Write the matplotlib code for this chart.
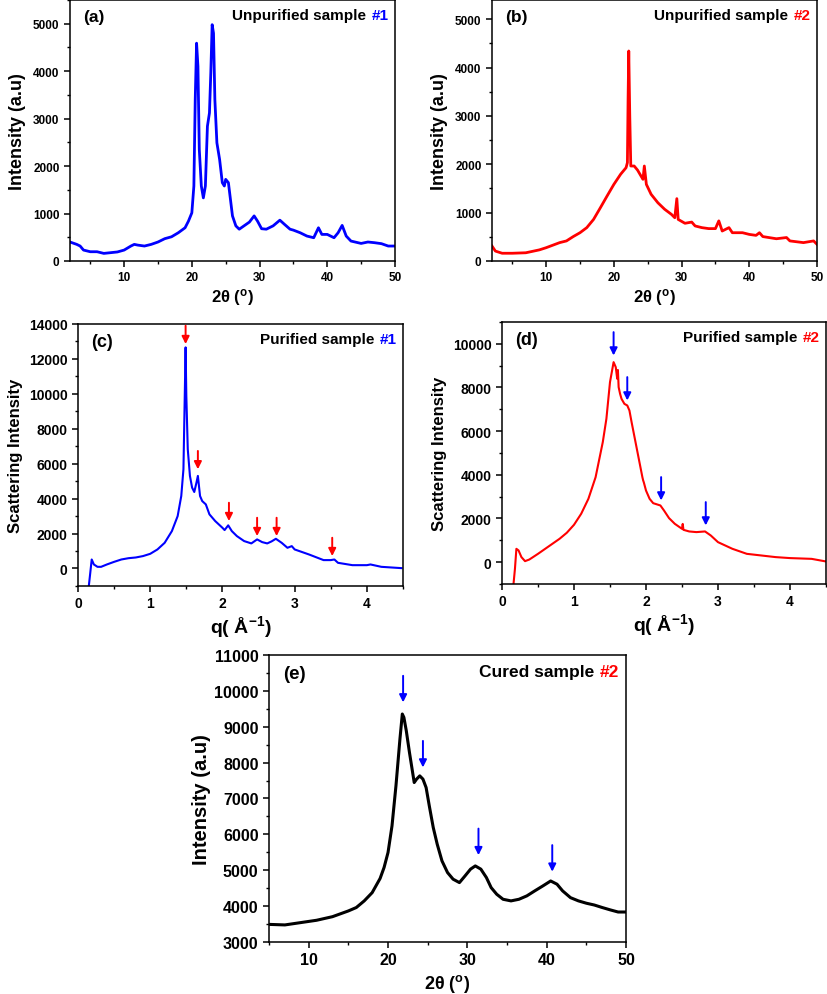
import matplotlib
matplotlib.use('Agg')
import matplotlib.pyplot as plt
from matplotlib.ticker import MultipleLocator
from matplotlib.offsetbox import AnchoredOffsetbox, TextArea, HPacker

plt.rcParams['font.family'] = ['Liberation Sans', 'DejaVu Sans']
plt.rcParams['font.weight'] = 'bold'
plt.rcParams['axes.labelweight'] = 'bold'
plt.rcParams['mathtext.fontset'] = 'custom'
plt.rcParams['mathtext.rm'] = 'Liberation Sans:bold'
plt.rcParams['mathtext.bf'] = 'Liberation Sans:bold'
plt.rcParams['mathtext.it'] = 'Liberation Sans:bold'

# (a) unpurified sample #1, XRD
a_x = [2, 3, 3.5, 4, 5, 6, 7, 8, 9, 10, 11, 11.5, 12, 13, 14, 15, 16, 17, 18, 19, 19.5, 20,
       20.3, 20.5, 20.7, 20.9, 21.1, 21.4, 21.7, 22, 22.3, 22.6, 22.8, 23.0, 23.2, 23.4, 23.7,
       24.1, 24.5, 24.8, 25.0, 25.4, 25.7, 26, 26.5, 27, 28, 28.5, 29.2, 29.7, 30.3, 31, 32, 33,
       33.7, 34.5, 35, 36, 37, 38, 38.7, 39.2, 40, 41, 41.6, 42.2, 42.8, 43.5, 45, 46, 47, 48, 49, 50]
a_y = [400, 350, 315, 230, 195, 195, 160, 175, 190, 230, 315, 350, 335, 315, 350, 400, 470, 510,
       595, 700, 840, 1015, 1580, 3400, 4590, 4100, 2350, 1580, 1330, 1580, 2840, 3120, 3960, 4980,
       4800, 3400, 2490, 2140, 1650, 1580, 1720, 1650, 1300, 950, 740, 670, 770, 820, 950, 840, 680,
       670, 740, 860, 770, 670, 650, 595, 525, 490, 700, 560, 560, 490, 595, 750, 525, 420, 370,
       400, 385, 365, 315, 315]

# (b) unpurified sample #2, XRD
b_x = [2, 2.5, 3.5, 5, 7, 9, 10, 12, 13, 14, 15, 16, 17, 18, 19, 20, 21, 21.8, 22.0, 22.1, 22.2,
       22.35, 22.5, 23, 23.5, 24, 24.3, 24.5, 24.8, 25.5, 26.5, 27.5, 28.5, 29.0, 29.3, 29.5, 30.5,
       31.5, 32, 33, 34, 35, 35.5, 36, 37, 37.5, 39, 40, 41, 41.5, 42, 44, 45.5, 46, 48, 49.5, 50]
b_y = [310, 205, 160, 160, 170, 230, 275, 380, 415, 505, 585, 690, 860, 1100, 1345, 1585, 1795,
       1930, 2035, 3345, 4345, 3000, 1965, 1965, 1880, 1760, 1690, 1965, 1585, 1380, 1205, 1070,
       965, 895, 1290, 860, 780, 805, 725, 690, 670, 670, 830, 620, 690, 585, 585, 550, 530, 585,
       505, 460, 485, 415, 380, 415, 345]

# (c) purified sample #1, scattering
c_q = [0.15, 0.17, 0.19, 0.22, 0.27, 0.32, 0.4, 0.5, 0.6, 0.7, 0.8, 0.9, 1.0, 1.1, 1.2, 1.3, 1.38,
       1.43, 1.46, 1.48, 1.49, 1.50, 1.52, 1.55, 1.58, 1.61, 1.64, 1.66, 1.69, 1.72, 1.77, 1.82,
       1.9, 2.0, 2.03, 2.08, 2.13, 2.2, 2.3, 2.4, 2.48, 2.55, 2.62, 2.68, 2.74, 2.82, 2.9, 2.96,
       3.0, 3.2, 3.4, 3.5, 3.55, 3.6, 3.8, 4.0, 4.05, 4.2, 4.48]
c_i = [-1000, -250, 515, 230, 95, 95, 230, 380, 515, 590, 630, 710, 840, 1090, 1470, 2140, 3000,
       4150, 5680, 10270, 12660, 9890, 6830, 5300, 4630, 4380, 4910, 5300, 4150, 3860, 3670, 3100,
       2715, 2330, 2200, 2470, 2140, 1855, 1570, 1435, 1665, 1510, 1435, 1550, 1700, 1470, 1185,
       1280, 1090, 800, 480, 480, 515, 325, 190, 190, 230, 95, 20]
c_arrow_q = [1.49, 1.66, 2.09, 2.48, 2.75, 3.52]
c_arrow_tip = [12850, 5680, 2715, 1855, 1855, 710]

# (d) purified sample #2, scattering
d_q = [0.16, 0.18, 0.2, 0.23, 0.27, 0.32, 0.38, 0.5, 0.6, 0.7, 0.8, 0.9, 1.0, 1.1, 1.2, 1.3, 1.4,
       1.45, 1.5, 1.55, 1.58, 1.6, 1.61, 1.62, 1.64, 1.66, 1.7, 1.74, 1.77, 1.8, 1.85, 1.9, 1.95,
       1.96, 1.97, 2.0, 2.05, 2.1, 2.2, 2.25, 2.32, 2.4, 2.5, 2.51, 2.52, 2.6, 2.7, 2.82, 2.9, 3.0,
       3.2, 3.4, 3.6, 3.8, 4.0, 4.3, 4.5]
d_i = [-1000, -305, 610, 535, 230, 45, 120, 380, 610, 840, 1070, 1345, 1710, 2215, 2900, 3890,
       5500, 6565, 8245, 9160, 8930, 8400, 8800, 8015, 7710, 7480, 7250, 7175, 6945, 6410, 5570,
       4730, 3890, 3750, 3650, 3280, 2900, 2700, 2595, 2365, 2015, 1755, 1525, 1750, 1480, 1405,
       1375, 1405, 1220, 915, 610, 380, 305, 230, 185, 150, 30]
d_arrow_q = [1.55, 1.74, 2.21, 2.83]
d_arrow_tip = [9465, 7405, 2825, 1680]

# (e) cured sample #2, XRD
e_x = [5, 7, 9, 11, 13, 15, 16, 17, 18, 19, 19.5, 20, 20.5, 21, 21.5, 21.8, 22.0, 22.3, 22.7, 23.0,
       23.3, 23.6, 24.0, 24.4, 24.8, 25.2, 25.7, 26.2, 26.8, 27.5, 28.2, 29, 29.7, 30.4, 31, 31.7,
       32.4, 33, 33.7, 34.5, 35.5, 36.5, 37.5, 38.5, 39.5, 40.5, 41.3, 42, 43, 44, 45, 46, 47, 48,
       49, 50]
e_y = [3490, 3475, 3540, 3605, 3705, 3865, 3960, 4145, 4375, 4770, 5075, 5495, 6235, 7355, 8655,
       9355, 9260, 8890, 8285, 7865, 7445, 7540, 7630, 7540, 7305, 6795, 6190, 5725, 5260, 4935,
       4750, 4655, 4840, 5030, 5120, 5030, 4795, 4515, 4330, 4190, 4145, 4190, 4285, 4425, 4560,
       4700, 4610, 4425, 4235, 4145, 4080, 4030, 3960, 3895, 3835, 3835]
e_arrow_x = [21.9, 24.4, 31.4, 40.7]
e_arrow_tip = [9680, 7865, 5420, 4960]


def style(ax, fs, xmaj, xmin, ymaj, ymin):
    ax.xaxis.set_major_locator(MultipleLocator(xmaj))
    ax.xaxis.set_minor_locator(MultipleLocator(xmin))
    ax.yaxis.set_major_locator(MultipleLocator(ymaj))
    ax.yaxis.set_minor_locator(MultipleLocator(ymin))
    ax.tick_params(which='major', direction='out', length=4, width=1.1, labelsize=fs)
    ax.tick_params(which='minor', direction='out', length=2.5, width=1.0)
    for s in ax.spines.values():
        s.set_linewidth(1.1)
    for lab in ax.get_xticklabels() + ax.get_yticklabels():
        lab.set_fontweight('bold')


def tag(ax, letter, text, num, numcolor, size, lsize):
    ax.text(0.04, 0.965, letter, transform=ax.transAxes, fontsize=lsize,
            fontweight='bold', va='top', ha='left')
    t1 = TextArea(text, textprops=dict(color='black', size=size, weight='bold'))
    t2 = TextArea(num, textprops=dict(color=numcolor, size=size, weight='bold'))
    box = HPacker(children=[t1, t2], align='baseline', pad=0, sep=4)
    anch = AnchoredOffsetbox(loc='upper right', child=box, pad=0, frameon=False,
                             bbox_to_anchor=(0.98, 0.97), bbox_transform=ax.transAxes,
                             borderpad=0)
    ax.add_artist(anch)


def arrows(ax, xs, tips, length, color):
    for x, t in zip(xs, tips):
        ax.annotate('', xy=(x, t), xytext=(x, t + length),
                    arrowprops=dict(arrowstyle='-|>', color=color, lw=1.4,
                                    mutation_scale=11, shrinkA=0, shrinkB=0))


fig = plt.figure(figsize=(8.27, 9.95), dpi=100)

xlab = '2θ ($^{\\mathbf{o}}$)'
qlab = 'q( Å$^{\\mathbf{-1}}$)'

# (a)
ax = fig.add_axes([0.0846, 0.7367, 0.393, 0.2623])
ax.plot(a_x, a_y, color='blue', lw=2.0)
ax.set_xlim(2, 50)
ax.set_ylim(0, 5500)
style(ax, 8.5, 10, 5, 1000, 500)
ax.set_xlabel(xlab, fontsize=12, labelpad=2)
ax.set_ylabel('Intensity (a.u)', fontsize=13, labelpad=5)
tag(ax, '(a)', 'Unpurified sample', '#1', 'blue', 11, 12.5)

# (b)
ax = fig.add_axes([0.5949, 0.7367, 0.393, 0.2623])
ax.plot(b_x, b_y, color='red', lw=2.0)
ax.set_xlim(2, 50)
ax.set_ylim(0, 5400)
style(ax, 8.5, 10, 5, 1000, 500)
ax.set_xlabel(xlab, fontsize=12, labelpad=2)
ax.set_ylabel('Intensity (a.u)', fontsize=13, labelpad=5)
tag(ax, '(b)', 'Unpurified sample', '#2', 'red', 11, 12.5)

# (c)
ax = fig.add_axes([0.0943, 0.4101, 0.393, 0.2633])
ax.plot(c_q, c_i, color='blue', lw=1.5)
ax.set_xlim(0, 4.5)
ax.set_ylim(-1000, 14000)
style(ax, 10, 1, 0.5, 2000, 1000)
arrows(ax, c_arrow_q, c_arrow_tip, 1050, 'red')
ax.set_xlabel(qlab, fontsize=14, labelpad=2)
ax.set_ylabel('Scattering Intensity', fontsize=12, labelpad=4)
tag(ax, '(c)', 'Purified sample', '#1', 'blue', 11, 13)

# (d)
ax = fig.add_axes([0.607, 0.4121, 0.3918, 0.2633])
ax.plot(d_q, d_i, color='red', lw=1.5)
ax.set_xlim(0, 4.5)
ax.set_ylim(-1000, 11000)
style(ax, 10, 1, 0.5, 2000, 1000)
arrows(ax, d_arrow_q, d_arrow_tip, 1070, 'blue')
ax.set_xlabel(qlab, fontsize=14, labelpad=2)
ax.set_ylabel('Scattering Intensity', fontsize=12, labelpad=4)
tag(ax, '(d)', 'Purified sample', '#2', 'red', 11, 13)

# (e)
ax = fig.add_axes([0.3253, 0.0523, 0.4317, 0.2884])
ax.plot(e_x, e_y, color='black', lw=2.2)
ax.set_xlim(5, 50)
ax.set_ylim(3000, 11000)
style(ax, 11.5, 10, 5, 1000, 500)
arrows(ax, e_arrow_x, e_arrow_tip, 740, 'blue')
ax.set_xlabel(xlab, fontsize=13, labelpad=3)
ax.set_ylabel('Intensity (a.u)', fontsize=14.5, labelpad=2)
tag(ax, '(e)', 'Cured sample', '#2', 'red', 12.5, 13.5)

fig.savefig('out.png', dpi=100)
